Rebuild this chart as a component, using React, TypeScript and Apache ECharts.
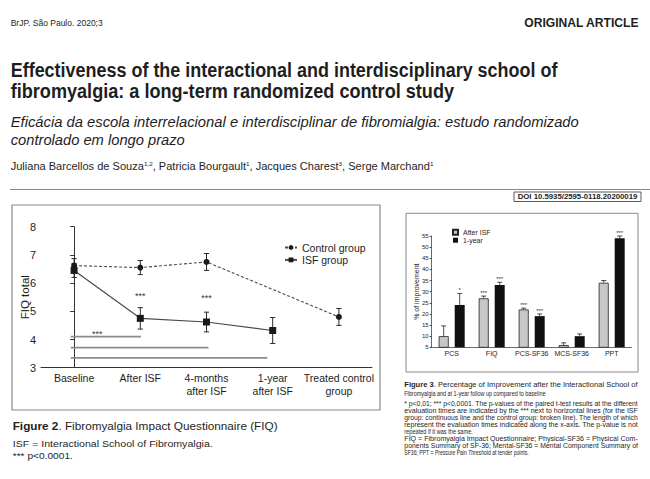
import React, { useEffect, useRef } from "react";
import * as echarts from "echarts";

// ---------- Figure 2 data (FIQ total) ----------
const fiqCategories = ["Baseline", "After ISF", "4-months\nafter ISF", "1-year\nafter ISF", "Treated control\ngroup"];
const controlMean: (number | null)[] = [6.62, 6.55, 6.75, null, 4.8];
const controlErr: (number | null)[] = [0.25, 0.25, 0.3, null, 0.3];
const isfMean: (number | null)[] = [6.45, 4.75, 4.62, 4.32, null];
const isfErr: (number | null)[] = [0.25, 0.38, 0.35, 0.46, null];
// significance bars: [start position, end position, FIQ value]
const sigBars = [
  [-0.05, 1.01, 4.1],
  [-0.05, 2.03, 3.71],
  [-0.05, 2.92, 3.35],
];
// "***" marks: [position, FIQ value]
const sigStars = [
  [1, 5.6],
  [2, 5.55],
  [0.35, 4.28],
];

// ---------- Figure 3 data (% of improvement) ----------
const improvementCategories = ["PCS", "FIQ", "PCS-SF36", "MCS-SF36", "PPT"];
const afterIsf = [10, 27, 22, 6, 34];
const afterIsfErrTop = [14.6, 28, 22.6, 7, 35];
const oneYear = [24, 33, 19, 10, 54];
const oneYearErrTop = [29.2, 34.2, 20, 11, 55];
const afterIsfStars = ["", "***", "***", "", ""];
const oneYearStars = ["*", "***", "***", "", "***"];

const FONT = "'Liberation Sans', Arial, Helvetica, sans-serif";
const INK = "#1e1e1e";
const BAR_W = 10;
const BAR_GAP = 6;

export default function App() {
  const ref = useRef<HTMLDivElement>(null);

  useEffect(() => {
    document.body.style.margin = "0";
    const chart = echarts.init(ref.current!, null, { renderer: "svg" });
    const ctx = document.createElement("canvas").getContext("2d")!;
    const fontOf = (size: number, bold?: boolean, italic?: boolean) =>
      `${italic ? "italic " : ""}${bold ? "bold " : ""}${size}px ${FONT}`;
    const measure = (t: string, f: string) => {
      ctx.font = f;
      return ctx.measureText(t).width;
    };

    const T = (text: string, x: number, y: number, size: number, width: number, o: any = {}) => {
      const font = fontOf(size, o.bold, o.italic);
      const w = measure(text, font);
      return {
        type: "text",
        x,
        y,
        scaleX: width / w,
        silent: true,
        style: {
          text,
          font,
          fill: o.color || INK,
          textAlign: o.align || "left",
          textVerticalAlign: "middle",
        },
      };
    };

    const R = (parts: { t: string; s: string }[], styles: any, x: number, y: number, width: number) => {
      let total = 0;
      parts.forEach((p) => {
        const st = styles[p.s];
        total += measure(p.t, fontOf(st.size, st.bold, st.italic));
      });
      const rich: any = {};
      Object.keys(styles).forEach((k) => {
        const st = styles[k];
        rich[k] = {
          fontSize: st.size,
          fontWeight: st.bold ? "bold" : "normal",
          fontStyle: st.italic ? "italic" : "normal",
          fontFamily: FONT,
          fill: INK,
          verticalAlign: st.sup ? "top" : "middle",
        };
      });
      return {
        type: "text",
        x,
        y,
        scaleX: width / total,
        silent: true,
        style: {
          text: parts.map((p) => `{${p.s}|${p.t}}`).join(""),
          rich,
          textAlign: "left",
          textVerticalAlign: "middle",
        },
      };
    };

    const graphic: any[] = [
      // page frames
      { type: "line", silent: true, shape: { x1: 10, y1: 189.5, x2: 650, y2: 189.5 }, style: { stroke: "#8a8a8a", lineWidth: 1.2 } },
      { type: "rect", silent: true, shape: { x: 514, y: 192, width: 127, height: 9.5 }, style: { fill: "#fff", stroke: "#333", lineWidth: 0.8 } },
      { type: "rect", silent: true, shape: { x: 12, y: 205, width: 368, height: 205 }, style: { fill: "none", stroke: "#8a8a8a", lineWidth: 1.2 } },
      { type: "rect", silent: true, shape: { x: 406, y: 213.3, width: 232, height: 158.7 }, style: { fill: "none", stroke: "#8a8a8a", lineWidth: 1 } },

      // header
      T("BrJP. São Paulo. 2020;3", 10.7, 22.7, 8.5, 92),
      T("ORIGINAL ARTICLE", 524.3, 22.7, 12.5, 115, { bold: true }),
      T("Effectiveness of the interactional and interdisciplinary school of", 10.7, 70, 20.5, 547, { bold: true }),
      T("fibromyalgia: a long-term randomized control study", 10.7, 91, 20.5, 443.6, { bold: true }),
      T("Eficácia da escola interrelacional e interdisciplinar de fibromialgia: estudo randomizado", 10.7, 121.7, 14.5, 569, { italic: true }),
      T("controlado em longo prazo", 10.7, 140.5, 14.5, 174.3, { italic: true }),
      R(
        [
          { t: "Juliana Barcellos de Souza", s: "n" },
          { t: "1,2", s: "sup" },
          { t: ", Patricia Bourgault", s: "n" },
          { t: "1", s: "sup" },
          { t: ", Jacques Charest", s: "n" },
          { t: "3", s: "sup" },
          { t: ", Serge Marchand", s: "n" },
          { t: "1", s: "sup" },
        ],
        { n: { size: 10.5 }, sup: { size: 6, sup: true } },
        10.7,
        165.7,
        422.6
      ),
      T("DOI 10.5935/2595-0118.20200019", 577.5, 196.8, 7.5, 120, { bold: true, align: "center" }),

      // Figure 2 caption
      R(
        [
          { t: "Figure 2", s: "b" },
          { t: ". Fibromyalgia Impact Questionnaire (FIQ)", s: "n" },
        ],
        { b: { size: 11.5, bold: true }, n: { size: 11.5 } },
        12.7,
        425.5,
        265.3
      ),
      T("ISF = Interactional School of Fibromyalgia.", 12.7, 443.5, 9.5, 200.3),
      T("*** p<0.0001.", 12.7, 456, 9.5, 60.3),

      // Figure 3 caption
      R(
        [
          { t: "Figure 3", s: "b" },
          { t: ". Percentage of Improvement after the Interactional School of", s: "n" },
        ],
        { b: { size: 8, bold: true }, n: { size: 8 } },
        404.3,
        384.5,
        234
      ),
      T("Fibromyalgia and at 1-year follow up compared to baseline", 404.3, 393, 8, 141.7),
      T("* p<0,01; *** p<0,0001. The p-values of the paired t-test results at the different", 404.3, 403.5, 6.3, 234),
      T("evaluation times are indicated by the *** next to horizontal lines (for the ISF", 404.3, 410.6, 6.3, 234),
      T("group: continuous line and the control group: broken line). The length of which", 404.3, 417.7, 6.3, 234),
      T("represent the evaluation times indicated along the x-axis. The p-value is not", 404.3, 424.8, 6.3, 234),
      T("repeated if it was the same.", 404.3, 431.9, 6.3, 68.7),
      T("FIQ = Fibromyalgia Impact Questionnaire; Physical-SF36 = Physical Com-", 404.3, 439, 6.3, 234),
      T("ponents Summary of SF-36; Mental-SF36 = Mental Component Summary of", 404.3, 446.1, 6.3, 234),
      T("SF36; PPT = Pressure Pain Threshold at tender points.", 404.3, 453.2, 6.3, 124.7),
    ];

    const errData = (means: (number | null)[], errs: (number | null)[]) =>
      means
        .map((m, i) => (m == null ? null : [i, m, errs[i] as number]))
        .filter((d) => d !== null);

    const errRender = (params: any, api: any) => {
      const i = api.value(0);
      const m = api.value(1);
      const e = api.value(2);
      const top = api.coord([i, m + e]);
      const bot = api.coord([i, m - e]);
      const hw = 2.6;
      const st = { stroke: "#2a2a2a", lineWidth: 1 };
      return {
        type: "group",
        children: [
          { type: "line", shape: { x1: top[0], y1: top[1], x2: bot[0], y2: bot[1] }, style: st },
          { type: "line", shape: { x1: top[0] - hw, y1: top[1], x2: top[0] + hw, y2: top[1] }, style: st },
          { type: "line", shape: { x1: bot[0] - hw, y1: bot[1], x2: bot[0] + hw, y2: bot[1] }, style: st },
        ],
      };
    };

    const barErr = (vals: number[], tops: number[], stars: string[], offset: number) => ({
      type: "custom",
      xAxisIndex: 2,
      yAxisIndex: 1,
      silent: true,
      z: 5,
      data: vals.map((v, i) => [i, v, tops[i]]),
      renderItem: (params: any, api: any) => {
        const i = api.value(0);
        const b = api.coord([i, api.value(1)]);
        const t = api.coord([i, api.value(2)]);
        const x = b[0] + offset;
        const st = { stroke: "#222", lineWidth: 0.8 };
        const children: any[] = [
          { type: "line", shape: { x1: x, y1: b[1], x2: x, y2: t[1] }, style: st },
          { type: "line", shape: { x1: x - 2.5, y1: t[1], x2: x + 2.5, y2: t[1] }, style: st },
        ];
        const s = stars[i];
        if (s) {
          children.push({
            type: "text",
            x,
            y: t[1] - 3,
            style: { text: s, font: `6px ${FONT}`, fill: "#333", textAlign: "center", textVerticalAlign: "middle" },
          });
        }
        return { type: "group", children };
      },
    });

    const option: any = {
      animation: false,
      backgroundColor: "#ffffff",
      textStyle: { fontFamily: FONT },
      graphic,
      grid: [
        { left: 41, top: 226.7, width: 331, height: 141 },
        { left: 431.7, top: 236, width: 200, height: 111.3 },
      ],
      legend: [
        {
          data: ["Control group", "ISF group"],
          orient: "vertical",
          left: 284,
          top: 242,
          itemWidth: 12,
          itemHeight: 6,
          itemGap: 1.4,
          padding: 0,
          selectedMode: false,
          textStyle: { fontSize: 10.5, color: INK, fontFamily: FONT },
        },
        {
          data: [
            { name: "After ISF", icon: "rect" },
            { name: "1-year", icon: "rect" },
          ],
          orient: "vertical",
          left: 452,
          top: 228.7,
          itemWidth: 5,
          itemHeight: 5,
          itemGap: 1,
          padding: 0,
          selectedMode: false,
          textStyle: { fontSize: 7, color: INK, fontFamily: FONT },
        },
      ],
      xAxis: [
        {
          gridIndex: 0,
          type: "category",
          data: fiqCategories,
          boundaryGap: true,
          axisLine: { lineStyle: { color: "#333", width: 1 } },
          axisTick: { alignWithLabel: true, length: 4, lineStyle: { color: "#333" } },
          axisLabel: { fontSize: 10.5, color: INK, margin: 4, lineHeight: 13, interval: 0 },
        },
        { gridIndex: 0, type: "value", min: -0.5, max: 4.5, show: false },
        {
          gridIndex: 1,
          type: "category",
          data: improvementCategories,
          axisLine: { lineStyle: { color: "#444", width: 0.8 } },
          axisTick: { show: false },
          axisLabel: { fontSize: 7, color: INK, margin: 3, interval: 0 },
        },
      ],
      yAxis: [
        {
          gridIndex: 0,
          type: "value",
          min: 3,
          max: 8,
          interval: 1,
          axisLine: { show: true, lineStyle: { color: "#333", width: 1 } },
          axisTick: { show: true, length: 4, lineStyle: { color: "#333" } },
          splitLine: { show: false },
          axisLabel: { fontSize: 11, color: INK, margin: 5 },
          name: "FIQ total",
          nameLocation: "middle",
          nameRotate: 90,
          nameGap: 10.5,
          nameMoveOverlap: false,
          nameTextStyle: { fontSize: 11.5, color: INK },
        },
        {
          gridIndex: 1,
          type: "value",
          min: 5,
          max: 55,
          interval: 5,
          axisLine: { show: true, lineStyle: { color: "#444", width: 0.8 } },
          axisTick: { show: true, length: 2, lineStyle: { color: "#444" } },
          splitLine: { show: false },
          axisLabel: { fontSize: 6, color: INK, margin: 3 },
          name: "% of improvement",
          nameLocation: "middle",
          nameRotate: 90,
          nameGap: 12,
          nameMoveOverlap: false,
          nameTextStyle: { fontSize: 7, color: INK },
        },
      ],
      series: [
        {
          type: "custom",
          xAxisIndex: 0,
          yAxisIndex: 0,
          silent: true,
          data: errData(controlMean, controlErr),
          renderItem: errRender,
          z: 1,
        },
        {
          type: "custom",
          xAxisIndex: 0,
          yAxisIndex: 0,
          silent: true,
          data: errData(isfMean, isfErr),
          renderItem: errRender,
          z: 1,
        },
        {
          name: "Control group",
          type: "line",
          xAxisIndex: 0,
          yAxisIndex: 0,
          data: controlMean.map((v) => (v == null ? "-" : v)),
          connectNulls: true,
          symbol: "circle",
          symbolSize: 6,
          itemStyle: { color: "#1a1a1a" },
          lineStyle: { color: "#4a4a4a", width: 1.1, type: [3, 2] },
          z: 3,
        },
        {
          name: "ISF group",
          type: "line",
          xAxisIndex: 0,
          yAxisIndex: 0,
          data: isfMean.map((v) => (v == null ? "-" : v)),
          connectNulls: false,
          symbol: "rect",
          symbolSize: 7,
          itemStyle: { color: "#1a1a1a" },
          lineStyle: { color: "#4a4a4a", width: 1.2 },
          z: 3,
        },
        ...sigBars.map(([a, b, v]) => ({
          type: "line",
          xAxisIndex: 1,
          yAxisIndex: 0,
          silent: true,
          data: [
            [a, v],
            [b, v],
          ],
          symbol: "none",
          lineStyle: { color: "#8c8c8c", width: 1.8 },
          z: 2,
        })),
        {
          type: "custom",
          xAxisIndex: 1,
          yAxisIndex: 0,
          silent: true,
          data: sigStars,
          renderItem: (params: any, api: any) => {
            const p = api.coord([api.value(0), api.value(1)]);
            return {
              type: "text",
              x: p[0],
              y: p[1] + 2,
              style: { text: "***", font: `9px ${FONT}`, fill: "#333", textAlign: "center", textVerticalAlign: "middle" },
            };
          },
        },
        {
          name: "After ISF",
          type: "bar",
          xAxisIndex: 2,
          yAxisIndex: 1,
          data: afterIsf,
          barWidth: BAR_W,
          barGap: `${(BAR_GAP / BAR_W) * 100}%`,
          itemStyle: { color: "#c8c8c8", borderColor: "#222", borderWidth: 0.8 },
        },
        {
          name: "1-year",
          type: "bar",
          xAxisIndex: 2,
          yAxisIndex: 1,
          data: oneYear,
          barWidth: BAR_W,
          barGap: `${(BAR_GAP / BAR_W) * 100}%`,
          itemStyle: { color: "#111111" },
        },
        barErr(afterIsf, afterIsfErrTop, afterIsfStars, -(BAR_W + BAR_GAP) / 2),
        barErr(oneYear, oneYearErrTop, oneYearStars, (BAR_W + BAR_GAP) / 2),
      ],
    };

    chart.setOption(option);
    return () => chart.dispose();
  }, []);

  return <div ref={ref} style={{ width: 650, height: 479 }} />;
}
